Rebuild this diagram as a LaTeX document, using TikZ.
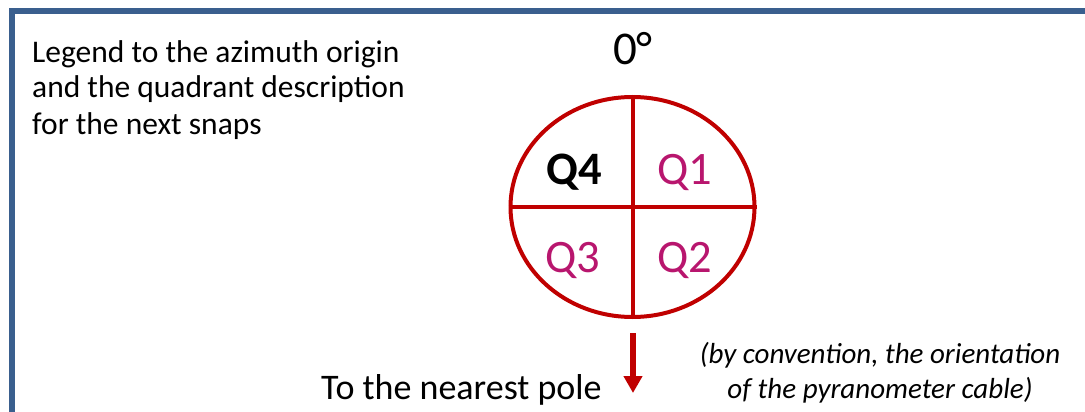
\documentclass[tikz,border=0pt]{standalone}
\usepackage{fontspec}
\setmainfont{Carlito}
\usetikzlibrary{arrows.meta,shapes.geometric}
\definecolor{frameblue}{HTML}{3A5F8E}
\definecolor{dialred}{HTML}{C00000}
\definecolor{qmag}{HTML}{B8166E}
\tikzset{
  frameline/.style={draw=frameblue,line width=5.5pt},
  dialline/.style={draw=dialred,line width=4pt},
  qlabel/.style={anchor=base,inner sep=0pt,font=\fontsize{46.5}{50}\selectfont,text=qmag},
  bodytext/.style={inner sep=0pt,text=black},
}
\begin{document}
\begin{tikzpicture}[x=1pt,y=-1pt]
\useasboundingbox (0,0) rectangle (1085,412);
\fill[white] (0,0) rectangle (1085,412);
% frame
\coordinate (fbl) at (12,420);
\coordinate (ftl) at (12,11);
\coordinate (ftr) at (1095,11);
\draw[frameline] (fbl) -- (ftl) -- (ftr);
% legend text (base anchor = last line baseline)
\node[bodytext,anchor=base west,align=left,font=\fontsize{31.5}{36}\selectfont] (legend) at (32,134)
  {Legend to the azimuth origin\\and the quadrant description\\for the next snaps};
% 0 degree
\node[bodytext,anchor=base,font=\fontsize{47}{50}\selectfont] (zero) at (633,65) {0°};
% dial
\node[ellipse,dialline,minimum width=244pt,minimum height=220pt,inner sep=0pt] (dial) at (632.5,207) {};
\draw[dialline] (dial.north) -- (dial.south);
\draw[dialline] (dial.west) -- (dial.east);
\node[qlabel,text=black,font=\bfseries\fontsize{46.5}{50}\selectfont] (q4) at (574,184) {Q4};
\node[qlabel] (q1) at (685,184) {Q1};
\node[qlabel] (q3) at (573,272) {Q3};
\node[qlabel] (q2) at (685,272) {Q2};
% arrow
\coordinate (arrtop) at (633,333);
\coordinate (arrtip) at (633,393);
\draw[draw=dialred,line width=5.5pt,-{Triangle[width=18pt,length=17pt]},color=dialred] (arrtop) -- (arrtip);
\node[bodytext,anchor=base west,font=\fontsize{36}{40}\selectfont] (pole) at (321,399) {To the nearest pole};
\node[bodytext,anchor=base,align=center,font=\itshape\fontsize{29}{35}\selectfont] (conv) at (880,398)
  {(by convention, the orientation\\of the pyranometer cable)};
\end{tikzpicture}
\end{document}
